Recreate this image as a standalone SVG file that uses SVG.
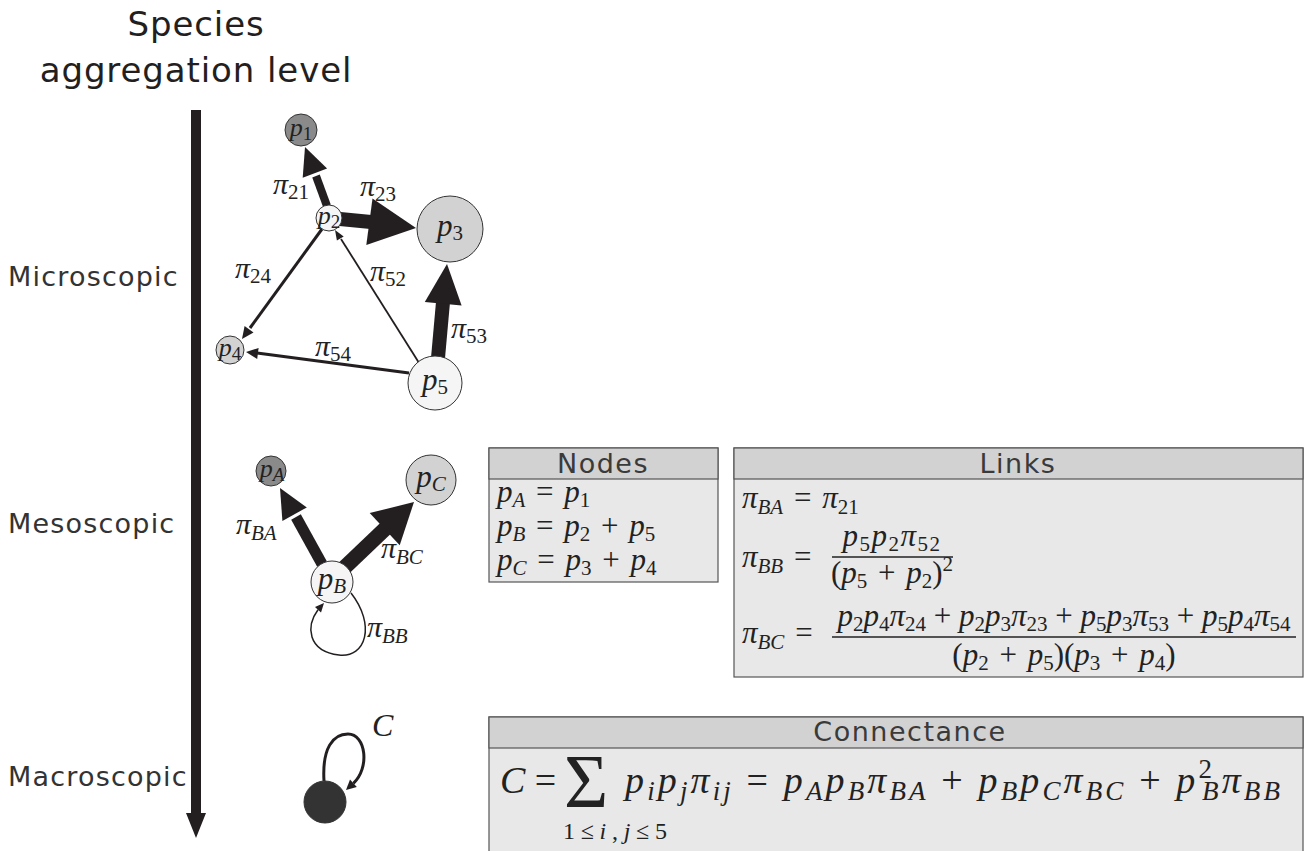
<svg xmlns="http://www.w3.org/2000/svg" width="1312" height="851" viewBox="0 0 1312 851">
<style>
.title{font-family:"DejaVu Sans",sans-serif;font-size:34px;fill:#231f20;letter-spacing:0.9px}
.lvl{font-family:"DejaVu Sans",sans-serif;font-size:27px;fill:#333;letter-spacing:1.2px}
.hdr{font-family:"DejaVu Sans",sans-serif;font-size:27px;fill:#3a3a3a;text-anchor:middle;letter-spacing:1.5px}
.m{font-family:"Liberation Serif",serif;font-style:italic;font-size:31px;fill:#222}
.ws{word-spacing:3px}
.g{font-family:"Liberation Serif",serif;font-style:italic;font-size:30px;fill:#222}
.nl{font-family:"Liberation Serif",serif;font-style:italic;font-size:26px;fill:#222;text-anchor:middle}
.nb{font-size:31px}
.sb{font-size:21px}
.sn{font-size:19px}
.sb2{font-size:27px}
.up{font-style:normal}
.c2{font-size:38px}
.node{stroke:#333;stroke-width:1}
.dark{fill:#8a8a8a}
.mid{fill:#d2d2d2}
.light{fill:#f5f5f5}
.blk{fill:#333}
.hd{fill:#231f20}
.sh{stroke:#231f20;fill:none;stroke-linecap:butt}
.boxb{fill:#e8e8e8;stroke:#555;stroke-width:1.2}
.boxh{fill:#d2d2d2;stroke:#555;stroke-width:1.2}
.bar{stroke:#222;stroke-width:1.3}
</style>

<g id="title">
<text class="title" x="196" y="36" text-anchor="middle">Species</text>
<text class="title" x="196" y="82" text-anchor="middle">aggregation level</text>
</g>

<g id="axis">
<rect x="191" y="110" width="10" height="704" fill="#231f20"/>
<polygon points="186,813 206,813 196,838" fill="#231f20"/>
<text class="lvl" x="8" y="286">Microscopic</text>
<text class="lvl" x="8" y="533">Mesoscopic</text>
<text class="lvl" x="8" y="786">Macroscopic</text>
</g>

<g id="connectors">
<line class="sh" x1="327" y1="206" x2="316" y2="176" stroke-width="8"/>
<polygon class="hd" points="305,147 327.1,168.6 302.7,177.8"/>
<line class="sh" x1="340" y1="219" x2="371" y2="222" stroke-width="14"/>
<polygon class="hd" points="416,228 372.5,198.4 366.3,245"/>
<line class="sh" x1="322" y1="229" x2="250" y2="328" stroke-width="3"/>
<polygon class="hd" points="242,339 244.6,326.1 253.5,332.5"/>
<line class="sh" x1="421" y1="366" x2="341" y2="239" stroke-width="1.8"/>
<polygon class="hd" points="335,230 343.7,236.4 336.9,240.6"/>
<line class="sh" x1="438" y1="358" x2="443" y2="302" stroke-width="14"/>
<polygon class="hd" points="447,264 461.6,305.6 424.8,302"/>
<line class="sh" x1="409" y1="373" x2="257" y2="353" stroke-width="3"/>
<polygon class="hd" points="246,352 258.6,348 257.2,359"/>
<line class="sh" x1="322" y1="564" x2="296" y2="517" stroke-width="11"/>
<polygon class="hd" points="280,488 306.8,507.4 282.4,521"/>
<line class="sh" x1="344" y1="568" x2="387" y2="527" stroke-width="15"/>
<polygon class="hd" points="414,502 399.7,545.3 369.7,513.1"/>
<path class="sh" d="M351,593 C376,625 366,658 339,655 C307,651 306,626 318,609.7" stroke-width="1.5"/>
<polygon class="hd" points="324,603 321,612.4 315,607"/>
<path class="sh" d="M324,781 C322,748 333,734 348,734 C366,734 370,768 353.4,783.3" stroke-width="3"/>
<polygon class="hd" points="346,790 350,779.6 356.8,787"/>
</g>

<g id="edge-labels">
<text class="g" x="273" y="194">π<tspan class="sb up" dy="5">21</tspan></text>
<text class="g" x="360" y="196">π<tspan class="sb up" dy="5">23</tspan></text>
<text class="g" x="235" y="278">π<tspan class="sb up" dy="5">24</tspan></text>
<text class="g" x="370" y="281">π<tspan class="sb up" dy="5">52</tspan></text>
<text class="g" x="451" y="338">π<tspan class="sb up" dy="5">53</tspan></text>
<text class="g" x="315" y="356">π<tspan class="sb up" dy="5">54</tspan></text>
<text class="g" x="236" y="534">π<tspan class="sb" dy="6">BA</tspan></text>
<text class="g" x="381" y="558">π<tspan class="sb" dy="6">BC</tspan></text>
<text class="g" x="367" y="637">π<tspan class="sb" dy="6">BB</tspan></text>
<text class="g" x="372" y="736" style="font-size:32px">C</text>
</g>

<g id="node-p1"><circle class="node dark" cx="301" cy="130" r="16"/><text class="nl" x="301" y="136">p<tspan class="sn up" dy="4">1</tspan></text></g>
<g id="node-p2"><circle class="node light" cx="329" cy="218" r="13"/><text class="nl" x="329" y="224">p<tspan class="sn up" dy="4">2</tspan></text></g>
<g id="node-p3"><circle class="node mid" cx="450" cy="229" r="33"/><text class="nl nb" x="450" y="236">p<tspan class="sb up" dy="4">3</tspan></text></g>
<g id="node-p4"><circle class="node mid" cx="230" cy="350" r="14"/><text class="nl" x="230" y="356">p<tspan class="sn up" dy="4">4</tspan></text></g>
<g id="node-p5"><circle class="node light" cx="435" cy="383" r="27"/><text class="nl nb" x="435" y="390">p<tspan class="sb up" dy="4">5</tspan></text></g>

<g id="node-pA"><circle class="node dark" cx="271" cy="471" r="15"/><text class="nl" x="272" y="477">p<tspan class="sn" dy="4">A</tspan></text></g>
<g id="node-pC"><circle class="node mid" cx="431" cy="480" r="25"/><text class="nl nb" x="431" y="487">p<tspan class="sb" dy="4">C</tspan></text></g>
<g id="node-pB"><circle class="node light" cx="332" cy="582" r="21"/><text class="nl nb" x="332" y="589">p<tspan class="sb" dy="4">B</tspan></text></g>

<g id="node-macro"><circle class="node blk" cx="325" cy="802" r="21"/></g>

<g id="box-nodes">
<rect class="boxb" x="489" y="448" width="229" height="134"/>
<rect class="boxh" x="489" y="448" width="229" height="31"/>
<text class="hdr" x="603" y="473">Nodes</text>
<text class="m ws" x="497" y="502">p<tspan class="sb" dy="5">A</tspan><tspan class="up" dy="-5"> = </tspan>p<tspan class="sb up" dy="5">1</tspan></text>
<text class="m ws" x="497" y="536">p<tspan class="sb" dy="5">B</tspan><tspan class="up" dy="-5"> = </tspan>p<tspan class="sb up" dy="5">2</tspan><tspan class="up" dy="-5"> + </tspan>p<tspan class="sb up" dy="5">5</tspan></text>
<text class="m ws" x="497" y="570">p<tspan class="sb" dy="5">C</tspan><tspan class="up" dy="-5"> = </tspan>p<tspan class="sb up" dy="5">3</tspan><tspan class="up" dy="-5"> + </tspan>p<tspan class="sb up" dy="5">4</tspan></text>
</g>

<g id="box-links">
<rect class="boxb" x="734" y="448" width="569" height="229"/>
<rect class="boxh" x="734" y="448" width="569" height="31"/>
<text class="hdr" x="1018" y="473">Links</text>
<text class="m ws" x="742" y="508">π<tspan class="sb" dy="6">BA</tspan><tspan class="up" dy="-6"> = </tspan>π<tspan class="sb up" dy="6">21</tspan></text>
<text class="m ws" x="742" y="567">π<tspan class="sb" dy="6">BB</tspan><tspan class="up" dy="-6"> =</tspan></text>
<text class="m" x="892" y="546" text-anchor="middle" style="letter-spacing:1.5px">p<tspan class="sb up" dy="5">5</tspan><tspan dy="-5">p</tspan><tspan class="sb up" dy="5">2</tspan><tspan dy="-5">π</tspan><tspan class="sb up" dy="5">52</tspan></text>
<line class="bar" x1="832" y1="557" x2="953" y2="557"/>
<text class="m ws" x="892" y="583" text-anchor="middle"><tspan class="up">(</tspan>p<tspan class="sb up" dy="5">5</tspan><tspan class="up" dy="-5"> + </tspan>p<tspan class="sb up" dy="5">2</tspan><tspan class="up" dy="-5">)</tspan><tspan class="sb up" dy="-12">2</tspan></text>
<text class="m ws" x="742" y="643">π<tspan class="sb" dy="6">BC</tspan><tspan class="up" dy="-6"> =</tspan></text>
<text class="m" x="1064" y="626" text-anchor="middle">p<tspan class="sb up" dy="5">2</tspan><tspan dy="-5">p</tspan><tspan class="sb up" dy="5">4</tspan><tspan dy="-5">π</tspan><tspan class="sb up" dy="5">24</tspan><tspan class="up" dy="-5"> + </tspan>p<tspan class="sb up" dy="5">2</tspan><tspan dy="-5">p</tspan><tspan class="sb up" dy="5">3</tspan><tspan dy="-5">π</tspan><tspan class="sb up" dy="5">23</tspan><tspan class="up" dy="-5"> + </tspan>p<tspan class="sb up" dy="5">5</tspan><tspan dy="-5">p</tspan><tspan class="sb up" dy="5">3</tspan><tspan dy="-5">π</tspan><tspan class="sb up" dy="5">53</tspan><tspan class="up" dy="-5"> + </tspan>p<tspan class="sb up" dy="5">5</tspan><tspan dy="-5">p</tspan><tspan class="sb up" dy="5">4</tspan><tspan dy="-5">π</tspan><tspan class="sb up" dy="5">54</tspan></text>
<line class="bar" x1="832" y1="637" x2="1296" y2="637"/>
<text class="m ws" x="1064" y="665" text-anchor="middle"><tspan class="up">(</tspan>p<tspan class="sb up" dy="5">2</tspan><tspan class="up" dy="-5"> + </tspan>p<tspan class="sb up" dy="5">5</tspan><tspan class="up" dy="-5">)(</tspan>p<tspan class="sb up" dy="5">3</tspan><tspan class="up" dy="-5"> + </tspan>p<tspan class="sb up" dy="5">4</tspan><tspan class="up" dy="-5">)</tspan></text>
</g>

<g id="box-connectance">
<rect class="boxb" x="489" y="717" width="814" height="145"/>
<rect class="boxh" x="489" y="717" width="814" height="31"/>
<text class="hdr" x="910" y="741">Connectance</text>
<text class="m c2" x="500" y="793">C<tspan class="up"> =</tspan></text>
<text class="m up" x="586" y="807" text-anchor="middle" style="font-size:76px">Σ</text>
<text class="m" x="615" y="839" text-anchor="middle" style="font-size:24px" textLength="104"><tspan class="up">1≤</tspan>i<tspan class="up">,</tspan>j<tspan class="up">≤5</tspan></text>
<text class="m c2" x="625" y="793" textLength="655">p<tspan class="sb2" dy="7">i</tspan><tspan dy="-7">p</tspan><tspan class="sb2" dy="7">j</tspan><tspan dy="-7">π</tspan><tspan class="sb2" dy="7">ij</tspan><tspan class="up" dy="-7"> = </tspan>p<tspan class="sb2" dy="7">A</tspan><tspan dy="-7">p</tspan><tspan class="sb2" dy="7">B</tspan><tspan dy="-7">π</tspan><tspan class="sb2" dy="7">BA</tspan><tspan class="up" dy="-7"> + </tspan>p<tspan class="sb2" dy="7">B</tspan><tspan dy="-7">p</tspan><tspan class="sb2" dy="7">C</tspan><tspan dy="-7">π</tspan><tspan class="sb2" dy="7">BC</tspan><tspan class="up" dy="-7"> + </tspan>p<tspan class="sb2 up" dy="-15">2</tspan><tspan class="sb2" dx="-13" dy="22">B</tspan><tspan dy="-7">π</tspan><tspan class="sb2" dy="7">BB</tspan></text>
</g>
</svg>
